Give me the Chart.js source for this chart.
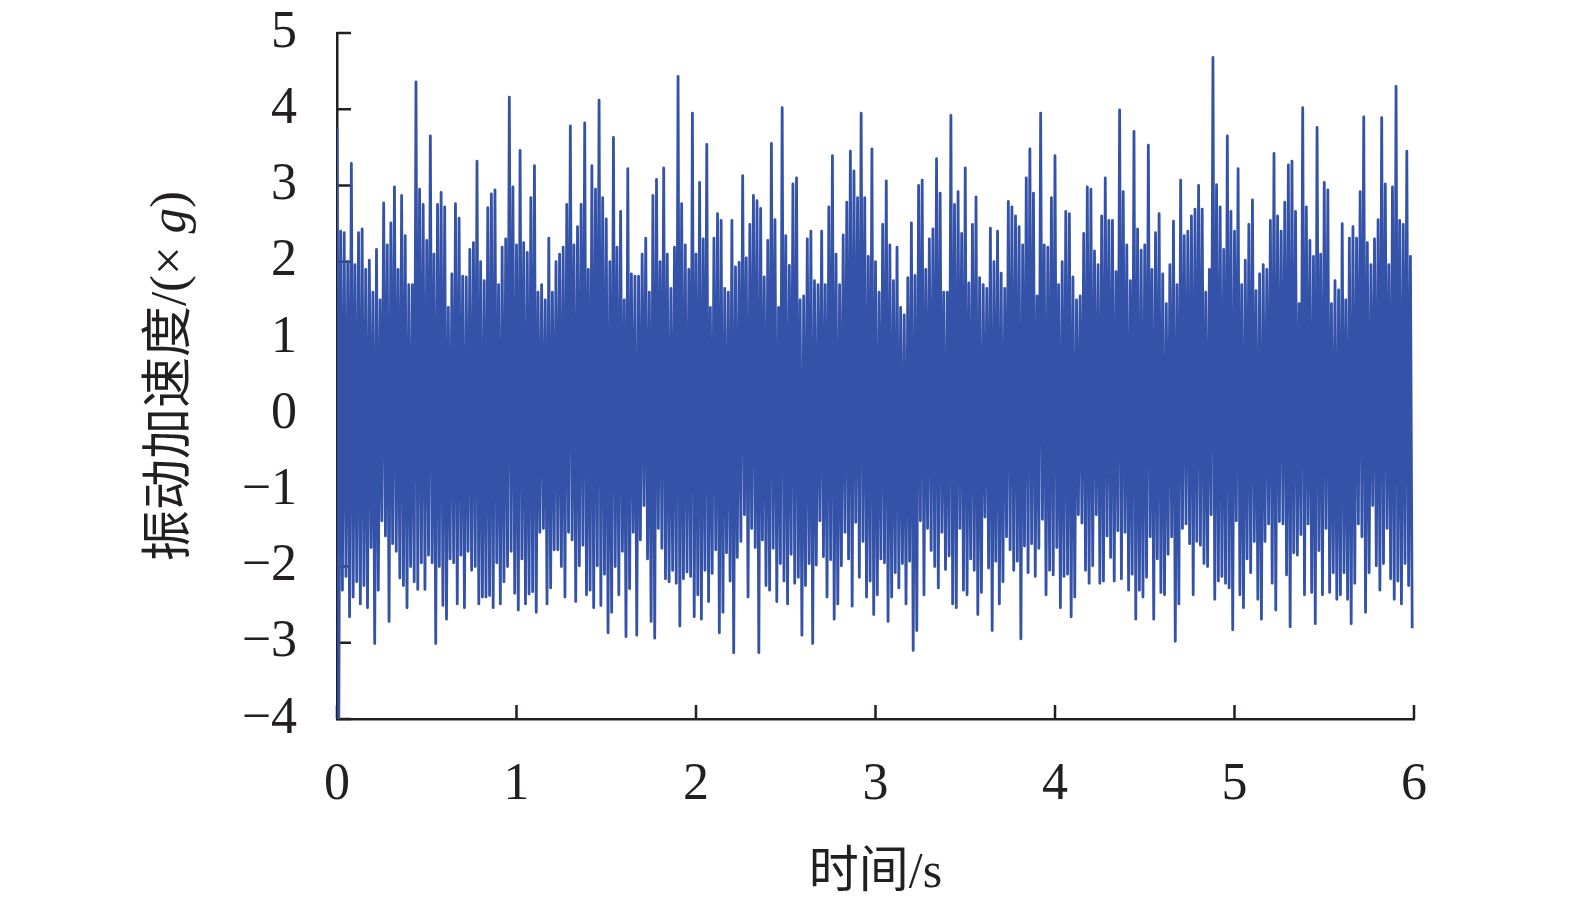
<!DOCTYPE html>
<html>
<head>
<meta charset="utf-8">
<script src="https://cdn.jsdelivr.net/npm/chart.js@4.4.1/dist/chart.umd.min.js"></script>
<style>
  html, body { margin: 0; padding: 0; background: #fff; }
  #wrap { width: 1575px; height: 907px; }
</style>
</head>
<body>
<div id="wrap"><canvas id="vibChart" width="1575" height="907"></canvas></div>
<script>
// sampled acceleration record, read off the figure: one upper and one lower
// excursion per 0.02 s, one row of 50 per second
var sampleStep = 0.01; // s

var upperPeaks = [
  3.76, 2.40, 2.38, 2.00, 3.29, 1.96, 2.38, 2.43, 1.90, 2.02, 1.60, 2.16, 1.50, 2.77, 2.22, 2.51, 2.98, 1.90, 2.87, 2.34, 1.70, 1.70, 4.36, 2.95, 2.75, 2.28, 3.65, 2.10, 2.75, 2.91, 2.72, 1.40, 1.84, 2.76, 2.57, 1.81, 1.80, 2.16, 2.25, 3.32, 2.00, 1.75, 2.71, 2.89, 2.94, 1.70, 2.19, 2.30, 4.16, 2.98,
  2.22, 3.46, 2.25, 2.12, 2.84, 3.26, 1.60, 1.70, 1.50, 2.31, 1.60, 2.00, 2.10, 2.19, 2.75, 3.78, 2.22, 2.46, 2.75, 3.82, 1.90, 3.26, 2.95, 4.12, 2.84, 2.56, 2.00, 3.63, 2.19, 2.66, 1.50, 3.22, 1.84, 1.81, 1.81, 2.10, 2.31, 1.60, 2.87, 3.08, 2.00, 3.23, 2.10, 1.65, 2.19, 4.43, 2.76, 2.22, 1.90, 3.95,
  2.10, 3.04, 2.30, 3.54, 1.40, 2.31, 2.63, 2.54, 1.65, 1.60, 2.54, 1.93, 1.99, 3.13, 2.05, 2.49, 2.87, 2.80, 2.70, 1.80, 2.28, 3.55, 2.55, 1.40, 4.02, 2.34, 1.95, 3.02, 3.10, 1.50, 1.55, 2.30, 2.40, 1.75, 1.70, 2.40, 1.70, 2.72, 3.39, 2.10, 1.70, 2.35, 2.78, 3.45, 3.19, 2.84, 3.95, 2.84, 2.07, 3.48,
  2.00, 1.60, 2.49, 3.06, 2.22, 1.75, 2.19, 1.40, 1.30, 1.79, 2.51, 1.82, 3.00, 3.07, 1.90, 2.30, 2.43, 3.35, 2.90, 1.60, 1.60, 3.92, 2.75, 2.92, 2.37, 3.23, 1.72, 2.49, 2.85, 1.79, 1.70, 1.65, 2.44, 2.00, 2.40, 1.85, 1.65, 2.79, 2.72, 2.60, 2.46, 2.22, 3.10, 3.48, 2.90, 1.55, 3.95, 2.22, 2.19, 2.84,
  3.39, 1.70, 2.00, 2.66, 2.63, 1.80, 1.50, 1.55, 2.37, 2.98, 2.95, 2.14, 1.96, 2.60, 3.10, 2.54, 2.54, 1.87, 3.99, 2.92, 2.22, 1.75, 3.71, 2.43, 2.15, 2.22, 3.53, 1.90, 2.38, 2.63, 1.84, 1.45, 1.96, 2.53, 1.70, 3.07, 2.34, 2.40, 2.60, 2.69, 3.00, 2.69, 1.60, 1.90, 4.68, 3.01, 2.72, 2.16, 3.65, 2.66,
  2.40, 3.22, 1.70, 2.02, 2.49, 2.81, 1.62, 1.84, 1.96, 1.90, 2.54, 3.42, 2.60, 2.40, 2.78, 3.27, 3.32, 2.66, 1.45, 4.02, 2.72, 2.28, 2.07, 3.76, 2.10, 3.04, 2.94, 1.45, 1.75, 1.63, 2.50, 1.50, 2.31, 2.46, 2.31, 2.92, 3.90, 2.25, 1.96, 2.30, 2.55, 3.89, 3.02, 1.96, 2.98, 4.30, 2.54, 2.49, 3.45, 2.07
];

var lowerPeaks = [
  -4.00, -2.31, -2.13, -2.66, -2.40, -2.20, -2.49, -2.25, -2.54, -1.75, -3.01, -2.31, -1.40, -1.60, -2.72, -1.70, -1.80, -2.15, -2.25, -2.54, -2.00, -2.20, -2.30, -1.95, -2.30, -1.85, -1.95, -3.01, -2.00, -2.51, -2.69, -1.90, -1.95, -2.49, -1.85, -2.54, -1.80, -2.05, -2.00, -2.49, -2.40, -2.40, -2.38, -2.54, -1.95, -2.49, -2.20, -2.00, -1.80, -2.35,
  -2.57, -1.90, -2.49, -2.36, -2.33, -2.60, -1.55, -1.50, -2.49, -2.28, -1.78, -1.78, -2.00, -2.40, -1.55, -1.65, -2.46, -1.99, -1.72, -2.37, -2.31, -2.54, -1.99, -2.51, -2.10, -2.87, -2.60, -2.00, -2.37, -1.80, -2.92, -2.29, -1.55, -2.90, -1.65, -1.20, -1.90, -2.72, -2.94, -1.50, -1.76, -2.16, -2.20, -2.05, -2.22, -2.78, -2.16, -2.07, -2.13, -2.66,
  -2.37, -2.69, -2.05, -2.46, -2.09, -1.78, -2.87, -2.60, -1.82, -2.19, -3.13, -1.88, -1.67, -1.32, -2.40, -1.50, -1.75, -3.13, -1.65, -2.25, -2.31, -1.76, -2.46, -1.96, -2.19, -2.49, -1.84, -2.22, -2.14, -2.90, -2.25, -1.96, -3.01, -1.98, -1.40, -1.87, -2.40, -1.91, -2.69, -2.49, -1.99, -1.55, -1.90, -2.52, -1.42, -2.14, -1.67, -2.40, -2.19, -2.63,
  -2.37, -1.90, -1.95, -2.72, -2.40, -2.08, -2.28, -1.96, -2.49, -1.93, -3.10, -2.84, -1.40, -2.37, -1.50, -1.79, -2.00, -2.28, -1.55, -2.04, -1.86, -2.49, -2.54, -1.50, -2.31, -2.37, -1.90, -2.05, -2.63, -2.34, -1.35, -2.02, -2.84, -1.93, -2.49, -2.20, -1.61, -1.78, -2.05, -1.93, -2.95, -1.73, -2.08, -1.70, -2.13, -1.76, -1.38, -2.37, -2.05, -2.11,
  -1.75, -2.54, -2.13, -2.10, -2.66, -2.40, -1.32, -1.43, -2.05, -2.22, -1.99, -1.32, -2.22, -2.19, -1.60, -1.88, -2.19, -1.53, -2.16, -1.55, -2.31, -2.10, -2.69, -2.31, -2.40, -2.14, -1.61, -2.69, -1.90, -2.34, -2.37, -1.84, -1.61, -2.98, -2.49, -1.50, -1.44, -1.70, -2.37, -1.67, -1.72, -1.96, -2.00, -1.32, -2.43, -2.19, -2.13, -2.22, -2.28, -2.83,
  -1.40, -2.37, -2.54, -1.90, -2.08, -1.67, -2.43, -2.69, -1.67, -1.44, -2.22, -2.57, -1.41, -1.44, -2.11, -2.79, -1.82, -1.85, -1.58, -2.37, -1.44, -2.34, -2.75, -1.79, -2.37, -1.50, -2.34, -2.08, -2.43, -2.37, -2.08, -2.43, -2.75, -2.22, -1.44, -1.61, -2.60, -2.08, -1.20, -1.99, -2.31, -1.96, -1.50, -2.16, -2.43, -2.19, -2.49, -1.96, -2.25, -2.81
];

var timeTicks = [0, 1, 2, 3, 4, 5, 6];
var accelTicks = [-4, -3, -2, -1, 0, 1, 2, 3, 4, 5];

var xTitle = '时间/s';
var yTitleParts = ['振动加速度/(× ', 'g', ')'];

var lineColor = '#3452a8';
var inkColor = '#231f20';
var serif = "'Liberation Serif', 'Times New Roman', 'Noto Sans CJK SC', serif";

// build the trace: upper and lower excursions alternate in time
var trace = [];
for (var i = 0; i < upperPeaks.length; i++) {
    trace.push({x: (2 * i) * sampleStep, y: upperPeaks[i]});
    trace.push({x: (2 * i + 1) * sampleStep, y: lowerPeaks[i]});
}

function tickText(v) {
    return v < 0 ? '\u2212' + Math.abs(v) : String(v);
}

// tick marks pointing into the plot
var innerTicks = {
    id: 'innerTicks',
    beforeDatasetsDraw: function(chart) {
        var ctx = chart.ctx, a = chart.chartArea;
        var xs = chart.scales.x, ys = chart.scales.y;
        ctx.save();
        ctx.strokeStyle = inkColor;
        ctx.lineWidth = 2.5;
        ctx.beginPath();
        timeTicks.forEach(function(t) {
            var px = xs.getPixelForValue(t);
            ctx.moveTo(px, a.bottom);
            ctx.lineTo(px, a.bottom - 14);
        });
        accelTicks.forEach(function(v) {
            var py = ys.getPixelForValue(v);
            ctx.moveTo(a.left, py);
            ctx.lineTo(a.left + 14, py);
        });
        ctx.stroke();
        ctx.restore();
    }
};

// y title with an italic g
var yTitle = {
    id: 'yTitle',
    afterDraw: function(chart) {
        var ctx = chart.ctx, a = chart.chartArea;
        var fonts = ['51px ' + serif, 'italic 51px ' + serif, '51px ' + serif];
        ctx.save();
        ctx.fillStyle = inkColor;
        ctx.textBaseline = 'middle';
        ctx.textAlign = 'left';
        var widths = yTitleParts.map(function(s, k) { ctx.font = fonts[k]; return ctx.measureText(s).width; });
        var total = widths.reduce(function(p, q) { return p + q; }, 0);
        ctx.translate(172, (a.top + a.bottom) / 2);
        ctx.rotate(-Math.PI / 2);
        var pos = -total / 2;
        yTitleParts.forEach(function(s, k) {
            ctx.font = fonts[k];
            ctx.fillText(s, pos, 0);
            pos += widths[k];
        });
        ctx.restore();
    }
};

var ctx = document.getElementById('vibChart').getContext('2d');
var chart = new Chart(ctx, {
    type: 'line',
    data: {
        datasets: [{
            data: trace,
            borderColor: lineColor,
            borderWidth: 2.8,
            borderJoinStyle: 'round',
            pointRadius: 0,
            fill: false,
            tension: 0
        }]
    },
    options: {
        responsive: false,
        animation: false,
        events: [],
        layout: { padding: { top: 33, right: 161, bottom: 0, left: 0 } },
        plugins: { legend: { display: false }, tooltip: { enabled: false } },
        scales: {
            x: {
                type: 'linear',
                min: timeTicks[0],
                max: timeTicks[timeTicks.length - 1],
                grid: { display: false, drawTicks: false },
                border: { display: true, color: inkColor, width: 2.5 },
                ticks: {
                    stepSize: 1,
                    padding: 35,
                    color: inkColor,
                    font: { family: serif, size: 52 },
                    callback: tickText
                },
                title: {
                    display: true,
                    text: xTitle,
                    color: inkColor,
                    font: { family: serif, size: 50 },
                    padding: { top: 0, bottom: 3 }
                },
                afterFit: function(scale) { scale.height = 188; }
            },
            y: {
                type: 'linear',
                min: accelTicks[0],
                max: accelTicks[accelTicks.length - 1],
                grid: { display: false, drawTicks: false },
                border: { display: true, color: inkColor, width: 2.5 },
                ticks: {
                    stepSize: 1,
                    padding: 40,
                    color: inkColor,
                    font: { family: serif, size: 52 },
                    callback: tickText
                },
                afterFit: function(scale) {
                    scale.width = 337;
                    scale.paddingTop = 0;
                    scale.paddingBottom = 0;
                }
            }
        }
    },
    plugins: [innerTicks, yTitle]
});
</script>
</body>
</html>
